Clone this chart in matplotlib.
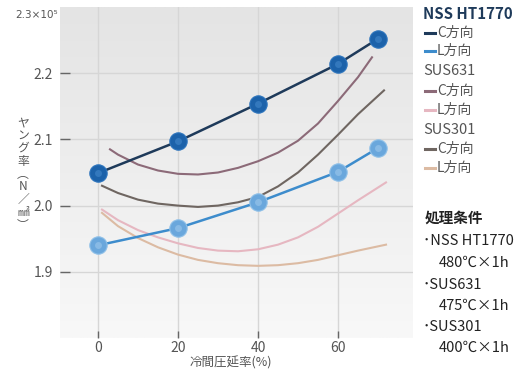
import numpy as np
import matplotlib
matplotlib.use("Agg")
import matplotlib.pyplot as plt
from matplotlib.lines import Line2D
from matplotlib.colors import LinearSegmentedColormap

plt.rcParams['font.family'] = ['Noto Sans CJK JP', 'DejaVu Sans']

# ---- data ----
reduction = [0, 20, 40, 60, 70]
nss_c = [2.049, 2.097, 2.154, 2.214, 2.252]
nss_l = [1.940, 1.966, 2.005, 2.051, 2.087]

sus631_c_x = [3, 5, 10, 15, 20, 25, 30, 35, 40, 45, 50, 55, 60, 65, 68.5]
sus631_c_y = [2.085, 2.077, 2.062, 2.053, 2.048, 2.047, 2.050, 2.057, 2.067,
              2.080, 2.098, 2.124, 2.158, 2.194, 2.224]
sus631_l_x = [1, 5, 10, 15, 20, 25, 30, 35, 40, 45, 50, 55, 60, 65, 72]
sus631_l_y = [1.994, 1.978, 1.963, 1.952, 1.943, 1.936, 1.932, 1.931, 1.934,
              1.941, 1.952, 1.968, 1.988, 2.008, 2.035]
sus301_c_x = [1, 5, 10, 15, 20, 25, 30, 35, 40, 45, 50, 55, 60, 65, 71.5]
sus301_c_y = [2.030, 2.019, 2.009, 2.003, 2.000, 1.998, 2.000, 2.005, 2.013,
              2.029, 2.050, 2.077, 2.107, 2.138, 2.174]
sus301_l_x = [1, 5, 10, 15, 20, 25, 30, 35, 40, 45, 50, 55, 60, 65, 72]
sus301_l_y = [1.989, 1.969, 1.951, 1.937, 1.926, 1.918, 1.913, 1.910, 1.909,
              1.910, 1.913, 1.918, 1.925, 1.932, 1.941]

xticks = [0, 20, 40, 60]
yticks = [1.9, 2.0, 2.1, 2.2]

W, H = 523, 372
fig = plt.figure(figsize=(W / 100, H / 100), dpi=100)
fig.patch.set_facecolor('white')

L, R, T, B = 60, 413, 7, 338
ax = fig.add_axes([L / W, 1 - B / H, (R - L) / W, (B - T) / H])
ax.set_xlim(-9.5, 78.75)
ax.set_ylim(1.8, 2.3)

# background gradient
grad = np.linspace(0, 1, 256).reshape(-1, 1)
cmap = LinearSegmentedColormap.from_list('bg', ['#f8f8f8', '#e4e4e4'])
ax.imshow(grad, extent=(-9.5, 78.75, 2.3, 1.8), aspect='auto', cmap=cmap,
          zorder=0, origin='upper')

for s in ax.spines.values():
    s.set_visible(False)
ax.set_xticks(xticks)
ax.set_yticks(yticks)
ax.set_yticklabels([f"{v:.1f}" for v in yticks])
ax.grid(True, color='#d6d6d6', lw=1.0, zorder=1)
ax.tick_params(axis='y', direction='in', length=7, width=1, color='#666666',
               labelsize=10, labelcolor='#555555', pad=5)
ax.tick_params(axis='x', direction='in', length=5, width=1, color='#666666',
               labelsize=10, labelcolor='#555555', pad=2)

# SUS curves
ax.plot(sus631_c_x, sus631_c_y, color='#8c6a78', lw=1.5, zorder=3)
ax.plot(sus631_l_x, sus631_l_y, color='#e6b7c1', lw=1.5, zorder=3)
ax.plot(sus301_c_x, sus301_c_y, color='#6f6661', lw=1.5, zorder=3)
ax.plot(sus301_l_x, sus301_l_y, color='#dcbba3', lw=1.5, zorder=3)

# NSS lines with spheres
ax.plot(reduction, nss_c, color='#1e3a5a', lw=1.8, zorder=4)
ax.plot(reduction, nss_c, ls='none', marker='o', ms=12.5, mfc='#1c62aa',
        mec='#2e75bd', mew=0.8, zorder=5)
ax.plot(reduction, nss_c, ls='none', marker='o', ms=5, mfc='#4a8fd0',
        mec='none', alpha=0.5, zorder=6)
ax.plot(reduction, nss_l, color='#3d8ccc', lw=1.8, zorder=4)
ax.plot(reduction, nss_l, ls='none', marker='o', ms=12.5, mfc='#6aa7dc',
        mec='#8fc0e8', mew=0.8, zorder=5)
ax.plot(reduction, nss_l, ls='none', marker='o', ms=5, mfc='#a6cdee',
        mec='none', alpha=0.5, zorder=6)

# x label
fig.text(231 / W, 1 - 363 / H, '冷間圧延率(%)', fontsize=9, color='#555555',
         ha='center', va='center')

# top-left unit label
fig.text(15 / W, 1 - 15 / H, '2.3×10⁵', fontsize=7.5, color='#555555',
         va='center', ha='left', family=['DejaVu Sans'])

# vertical y label
fig.text(23 / W, 1 - 174 / H, 'ヤ\nン\nグ\n率\n︵\nN\n／\n㎟\n︶', fontsize=8.5,
         color='#555555', ha='center', va='center', linespacing=0.98)

# legend
def ftxt(x, y, s, **kw):
    fig.text(x / W, 1 - y / H, s, va='center', ha='left', **kw)

def fline(y, color):
    fig.add_artist(Line2D([425 / W, 435 / W], [1 - y / H, 1 - y / H],
                          color=color, lw=2.2, transform=fig.transFigure))

ftxt(423, 14, 'NSS HT1770', fontsize=10.8, fontweight='bold', color='#1e3a5a')
fline(33, '#1e3a5a'); ftxt(437, 33, 'C方向', fontsize=10, color='#555555')
fline(51, '#3d8ccc'); ftxt(437, 51, 'L方向', fontsize=10, color='#555555')
ftxt(423, 71, 'SUS631', fontsize=10.5, color='#555555')
fline(91, '#8c6a78'); ftxt(437, 91, 'C方向', fontsize=10, color='#555555')
fline(110, '#e6b7c1'); ftxt(437, 110, 'L方向', fontsize=10, color='#555555')
ftxt(423, 130, 'SUS301', fontsize=10.5, color='#555555')
fline(149, '#6f6661'); ftxt(437, 149, 'C方向', fontsize=10, color='#555555')
fline(168, '#dcbba3'); ftxt(437, 168, 'L方向', fontsize=10, color='#555555')

# processing conditions
ftxt(425, 218, '処理条件', fontsize=10.5, fontweight='bold', color='#222222')
ftxt(423, 241, '･NSS HT1770', fontsize=10.5, color='#222222')
ftxt(439, 263, '480℃×1h', fontsize=10.5, color='#222222')
ftxt(423, 285, '･SUS631', fontsize=10.5, color='#222222')
ftxt(439, 306, '475℃×1h', fontsize=10.5, color='#222222')
ftxt(423, 327, '･SUS301', fontsize=10.5, color='#222222')
ftxt(439, 348, '400℃×1h', fontsize=10.5, color='#222222')

fig.savefig('out.png', dpi=100)
